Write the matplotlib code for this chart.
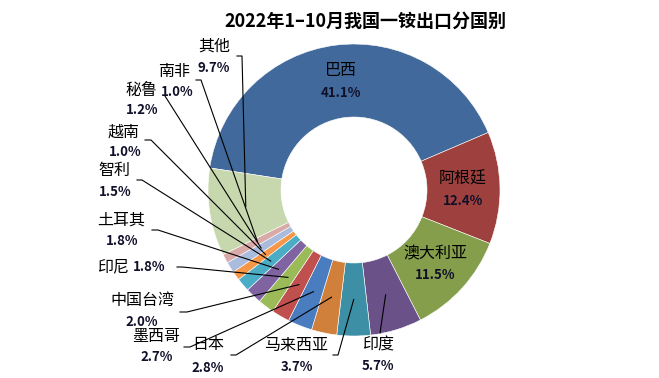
import numpy as np
import matplotlib
matplotlib.use('Agg')
from matplotlib import pyplot as plt

plt.rcParams['font.family'] = ['Noto Sans CJK SC', 'DejaVu Sans']

# data
countries = ['巴西', '阿根廷', '澳大利亚', '印度', '马来西亚', '日本', '墨西哥',
             '中国台湾', '印尼', '土耳其', '智利', '越南', '秘鲁', '南非', '其他']
shares = [41.1, 12.4, 11.5, 5.7, 3.7, 2.8, 2.7, 2.0, 1.8, 1.8, 1.5, 1.0, 1.2, 1.0, 9.7]
colors = ['#41699B', '#9E413E', '#849E4B', '#6A5289', '#3C8FA5', '#D0803A',
          '#4A7DBF', '#C0504D', '#9BBB59', '#8064A2', '#4BACC6', '#F79646',
          '#A9BCDE', '#D9A9A8', '#C8D8AE']
title = '2022年1–10月我国一铵出口分国别'

W, H = 659, 378
CX, CY, R = 354, 190, 146  # pixel coords, y from top


def px(x, y):
    return x, H - y


# label layout in pixels: (name xy, pct xy)
label_pos = {
    '巴西': ((341, 71), (341, 93)),
    '阿根廷': ((463, 179), (463, 201)),
    '澳大利亚': ((435, 254), (435, 275)),
    '印度': ((378, 345), (378, 366)),
    '马来西亚': ((296, 345), (297, 367)),
    '日本': ((208, 345), (208, 368)),
    '墨西哥': ((156, 337), (157, 357)),
    '中国台湾': ((142, 301), (142, 322)),
    '印尼': ((113, 267), (149, 267)),
    '土耳其': ((121, 220), (122, 241)),
    '智利': ((114, 170), (115, 192)),
    '越南': ((124, 132), (125, 152)),
    '秘鲁': ((141, 90), (142, 110)),
    '南非': ((174, 71), (177, 92)),
    '其他': ((214, 46), (214, 68)),
}

# leader line anchors near the labels (pixels)
leaders = {
    '印度': [(380, 333)],
    '马来西亚': [(333, 355), (338, 355)],
    '日本': [(231, 355), (236, 355)],
    '墨西哥': [(184, 347), (190, 347)],
    '中国台湾': [(180, 312), (187, 312)],
    '印尼': [(177, 267), (182, 267)],
    '土耳其': [(152, 230), (158, 230)],
    '智利': [(137, 180), (142, 180)],
    '越南': [(145, 140), (151, 140)],
    '秘鲁': [(165, 96)],
    '南非': [(196, 80), (201, 80)],
    '其他': [(237, 56), (242, 56)],
}

fig = plt.figure(figsize=(W / 100, H / 100), dpi=100)
ax = fig.add_axes([0, 0, 1, 1])

wedges, _ = ax.pie(shares, colors=colors, startangle=171.3, counterclock=False,
                   radius=R, center=px(CX, CY),
                   wedgeprops=dict(width=R * 0.5, edgecolor='white', linewidth=0.4))

ax.set_xlim(0, W)
ax.set_ylim(0, H)
ax.set_aspect('equal')
ax.axis('off')

for name, val, w in zip(countries, shares, wedges):
    (nx, ny), (qx, qy) = label_pos[name]
    ax.text(*px(nx, ny), name, fontsize=11.5, fontweight='medium',
            ha='center', va='center')
    ax.text(*px(qx, qy), '%.1f%%' % val, fontsize=9.5, fontweight='bold',
            ha='center', va='center', color='#10102a')

    if name in leaders:
        mid = np.deg2rad((w.theta1 + w.theta2) / 2)
        ex = w.center[0] + 0.75 * R * np.cos(mid)
        ey = w.center[1] + 0.75 * R * np.sin(mid)
        pts = [px(x, y) for x, y in leaders[name]] + [(ex, ey)]
        xs, ys = zip(*pts)
        ax.plot(xs, ys, color='black', lw=0.8)

ax.text(*px(365, 21), title, fontsize=13, fontweight='bold',
        ha='center', va='center')

fig.savefig('out.png', dpi=100)
